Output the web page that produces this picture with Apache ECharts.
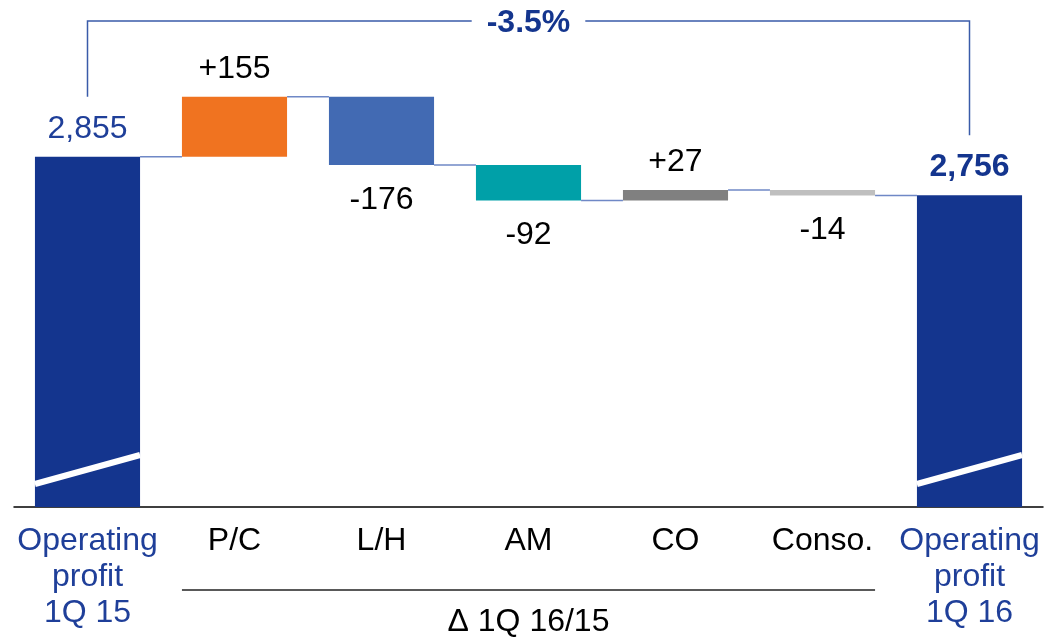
<!DOCTYPE html>
<html lang="en">
<head>
  <meta charset="UTF-8">
  <script src="https://cdn.jsdelivr.net/npm/echarts@6/dist/echarts.min.js"></script>
  <title>Operating profit bridge 1Q 15 to 1Q 16</title>
  <style>
    html, body { margin: 0; padding: 0; background: #fff; }
    #chart { width: 1053px; height: 639px; }
  </style>
</head>
<body>
  <div id="chart"></div>
  <script>
    // data
    const categories = ['Operating\nprofit\n1Q 15', 'P/C', 'L/H', 'AM', 'CO', 'Conso.', 'Operating\nprofit\n1Q 16'];
    const startTotal = 2855;
    const endTotal = 2756;
    const deltas = [155, -176, -92, 27, -14];
    const deltaColors = ['#F07320', '#426AB3', '#00A0A8', '#808080', '#BFBFBF'];
    const changeLabel = '-3.5%';
    const groupLabel = 'Δ 1Q 16/15';

    // broken value axis (bars do not start at zero)
    const yMin = 1950;
    const yMax = 3250;

    const navy = '#14358E';
    const labelBlue = '#1F3F99';
    const font = '"Liberation Sans", Arial, sans-serif';
    const fontSize = 32;
    const barRatio = 0.715;

    // running totals after each step
    const levels = [startTotal];
    deltas.forEach(d => levels.push(levels[levels.length - 1] + d));

    const fmt = v => v.toLocaleString('en-US');

    const baseData = [0];
    const barData = [{
      value: startTotal,
      itemStyle: { color: navy },
      label: { position: 'top', distance: 12, formatter: fmt(startTotal), color: labelBlue }
    }];
    deltas.forEach((d, i) => {
      baseData.push(Math.min(levels[i], levels[i + 1]));
      barData.push({
        value: Math.abs(d),
        itemStyle: { color: deltaColors[i] },
        label: {
          position: d > 0 ? 'top' : 'bottom',
          distance: d > 0 ? 12 : 19,
          formatter: (d > 0 ? '+' : '') + d,
          color: '#000'
        }
      });
    });
    baseData.push(0);
    barData.push({
      value: endTotal,
      itemStyle: { color: navy },
      label: { position: 'top', distance: 12, formatter: fmt(endTotal), color: navy, fontWeight: 'bold' }
    });

    const connectorData = levels.map((v, i) => [i, v]);
    const totalIdx = [0, categories.length - 1];

    const chart = echarts.init(document.getElementById('chart'));

    chart.setOption({
      animation: false,
      grid: { left: 14, right: 10, top: 4, bottom: 132 },
      xAxis: {
        type: 'category',
        data: categories,
        axisLine: { lineStyle: { color: '#000', width: 1.5 } },
        axisTick: { show: false },
        axisLabel: {
          interval: 0,
          margin: 16,
          fontSize: fontSize,
          lineHeight: 36,
          fontFamily: font,
          color: (val, idx) => (idx === 0 || idx === categories.length - 1) ? labelBlue : '#000'
        }
      },
      yAxis: {
        type: 'value',
        min: yMin,
        max: yMax,
        show: false,
        splitLine: { show: false }
      },
      series: [
        {
          type: 'bar',
          stack: 'bridge',
          barWidth: (barRatio * 100) + '%',
          itemStyle: { color: 'transparent' },
          data: baseData,
          silent: true
        },
        {
          type: 'bar',
          stack: 'bridge',
          barWidth: (barRatio * 100) + '%',
          data: barData,
          label: {
            show: true,
            fontSize: fontSize,
            fontFamily: font
          }
        },
        {
          // connector lines between bars
          type: 'custom',
          data: connectorData,
          renderItem: (params, api) => {
            const p = api.coord([api.value(0), api.value(1)]);
            const band = api.size([1, 0])[0];
            const half = band * barRatio / 2;
            return {
              type: 'line',
              shape: { x1: p[0] + half, y1: p[1], x2: p[0] + band - half, y2: p[1] },
              style: { stroke: '#6F88C6', lineWidth: 1.5 }
            };
          }
        },
        {
          // axis-break slashes on the total bars
          type: 'custom',
          data: totalIdx.map(i => [i, yMin]),
          z: 5,
          renderItem: (params, api) => {
            const p = api.coord([api.value(0), api.value(1)]);
            const half = api.size([1, 0])[0] * barRatio / 2;
            return {
              type: 'line',
              shape: { x1: p[0] - half, y1: p[1] - 23, x2: p[0] + half, y2: p[1] - 52 },
              style: { stroke: '#fff', lineWidth: 6 }
            };
          }
        },
        {
          // bracket with overall change
          type: 'custom',
          data: [[0, startTotal, categories.length - 1, endTotal]],
          renderItem: (params, api) => {
            const a = api.coord([api.value(0), api.value(1)]);
            const b = api.coord([api.value(2), api.value(3)]);
            const topY = params.coordSys.y + 17;
            return {
              type: 'group',
              children: [
                {
                  type: 'polyline',
                  shape: { points: [[a[0], a[1] - 60], [a[0], topY], [b[0], topY], [b[0], b[1] - 60]] },
                  style: { stroke: '#3A5BA9', lineWidth: 1.5, fill: null }
                },
                {
                  type: 'text',
                  x: (a[0] + b[0]) / 2,
                  y: topY + 2,
                  style: {
                    text: changeLabel,
                    fill: navy,
                    font: 'bold ' + fontSize + 'px ' + font,
                    align: 'center',
                    verticalAlign: 'middle',
                    backgroundColor: '#fff',
                    padding: [2, 15]
                  }
                }
              ]
            };
          }
        },
        {
          // group line under the delta categories
          type: 'custom',
          data: [[1, deltas.length]],
          renderItem: (params, api) => {
            const p1 = api.coord([api.value(0), yMin]);
            const p2 = api.coord([api.value(1), yMin]);
            const half = api.size([1, 0])[0] * barRatio / 2;
            return {
              type: 'group',
              children: [
                {
                  type: 'line',
                  shape: { x1: p1[0] - half, y1: p1[1] + 83, x2: p2[0] + half, y2: p1[1] + 83 },
                  style: { stroke: '#222', lineWidth: 1.5 }
                },
                {
                  type: 'text',
                  x: (p1[0] + p2[0]) / 2,
                  y: p1[1] + 115,
                  style: {
                    text: groupLabel,
                    fill: '#000',
                    font: fontSize + 'px ' + font,
                    align: 'center',
                    verticalAlign: 'middle'
                  }
                }
              ]
            };
          }
        }
      ]
    });
  </script>
</body>
</html>
